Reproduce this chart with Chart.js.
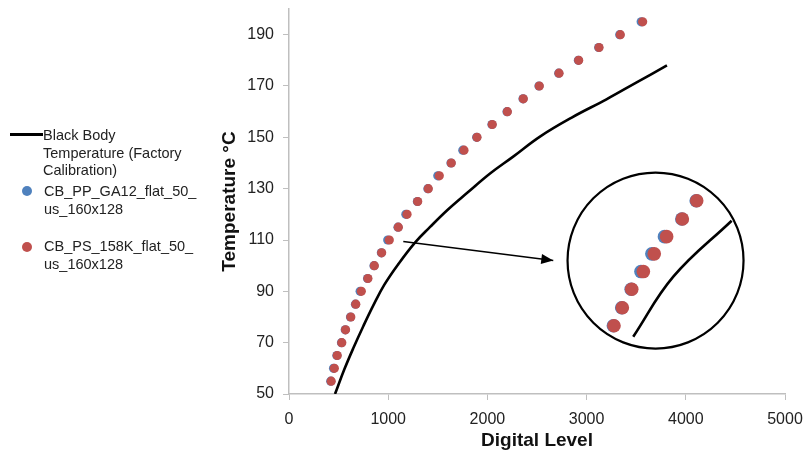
<!DOCTYPE html>
<html>
<head>
<meta charset="utf-8">
<script src="https://cdn.jsdelivr.net/npm/chart.js@4.4.1/dist/chart.umd.min.js"></script>
<style>
  body { margin: 0; background: #fff; }
  #wrap { position: relative; width: 806px; height: 456px; }
  #chart { position: absolute; left: 0; top: 0; }
  #legend { position: absolute; left: 0; top: 0; font-family: "Liberation Sans", Arial, sans-serif; font-size: 14.5px; line-height: 17.5px; color: #222; }
  .item { position: absolute; left: 44px; white-space: nowrap; }
  .mark { position: absolute; }
</style>
</head>
<body>
<div id="wrap">
  <canvas id="chart" width="806" height="456"></canvas>
  <div id="legend">
    <div class="mark" style="left:10px; top:133px; width:33px; height:3px; background:#000;"></div>
    <div class="item" style="top:127px; left:43px;">Black Body<br>Temperature (Factory<br>Calibration)</div>
    <div class="mark" style="left:22px; top:186px; width:10px; height:10px; border-radius:50%; background:#4f81bd;"></div>
    <div class="item" style="top:183px;">CB_PP_GA12_flat_50_<br>us_160x128</div>
    <div class="mark" style="left:22px; top:242px; width:10px; height:10px; border-radius:50%; background:#c0504d;"></div>
    <div class="item" style="top:238px;">CB_PS_158K_flat_50_<br>us_160x128</div>
  </div>
</div>
<script>
// temperatures of the measured points (°C)
var temps = [55, 60, 65, 70, 75, 80, 85, 90, 95, 100, 105, 110, 115, 120, 125, 130, 135, 140, 145, 150, 155, 160, 165, 170, 175, 180, 185, 190, 195];
// digital level, CB_PS_158K
var redLevels = [425, 457, 486, 532, 570, 623, 673, 729, 795, 860, 934, 1011, 1102, 1190, 1297, 1404, 1515, 1636, 1764, 1895, 2049, 2201, 2362, 2523, 2722, 2920, 3125, 3340, 3565];
// digital level, CB_PP_GA12
var blueLevels = [421, 449, 483, 529, 567, 620, 670, 717, 792, 857, 931, 995, 1099, 1178, 1294, 1400, 1500, 1633, 1752, 1892, 2046, 2198, 2359, 2520, 2719, 2917, 3122, 3334, 3550];

// black body factory calibration curve
var bbLevels = [464, 560, 650, 750, 850, 960, 1100, 1270, 1420, 1600, 1800, 2030, 2260, 2530, 2850, 3200, 3500, 3810];
var bbTemps = [50, 59.8, 68, 76.5, 84.5, 92.5, 100.5, 109, 115, 121.8, 128.5, 136, 142.5, 150.3, 157.7, 164.8, 171.3, 178];

// magnified inset (positions in axis units)
var insetRedX = [3276, 3360, 3455, 3572, 3682, 3807, 3965, 4110];
var insetRedY = [76.6, 83.6, 90.8, 97.7, 104.6, 111.3, 118.2, 125.3];
var insetBlueX = [3270, 3354, 3449, 3548, 3658, 3785, 3960, 4105];
var insetLineX = [3470, 3874, 4462];
var insetLineY = [72.3, 95.7, 117.5];
var circleCenter = [3695, 102];
var arrowX = [1152, 2664];
var arrowY = [109.4, 102.0];

var xTicks = [0, 1000, 2000, 3000, 4000, 5000];
var yTicks = [50, 70, 90, 110, 130, 150, 170, 190];

var RED = '#c0504d';
var BLUE = '#4f81bd';

function pts(xs, ys) {
    return xs.map(function (x, i) { return { x: x, y: ys[i] }; });
}

var arrowHead = {
    id: 'arrowHead',
    afterDatasetsDraw: function (chart) {
        var meta = chart.getDatasetMeta(chart.data.datasets.length - 1);
        var p = meta.data;
        var a = p[p.length - 2], b = p[p.length - 1];
        var ang = Math.atan2(b.y - a.y, b.x - a.x);
        var ctx = chart.ctx;
        ctx.save();
        ctx.translate(b.x, b.y);
        ctx.rotate(ang);
        ctx.beginPath();
        ctx.moveTo(0, 0);
        ctx.lineTo(-12, -5);
        ctx.lineTo(-12, 5);
        ctx.closePath();
        ctx.fillStyle = '#000';
        ctx.fill();
        ctx.restore();
    }
};

Chart.defaults.font.family = '"Liberation Sans", Arial, sans-serif';
Chart.defaults.color = '#222';

var ctx = document.getElementById('chart');
var chart = new Chart(ctx, {
    type: 'scatter',
    data: {
        datasets: [
            {
                data: pts(redLevels, temps),
                backgroundColor: RED,
                borderWidth: 0,
                pointRadius: 4.6
            },
            {
                data: pts(blueLevels, temps),
                backgroundColor: BLUE,
                borderWidth: 0,
                pointRadius: 4.6
            },
            {
                data: pts(bbLevels, bbTemps),
                showLine: true,
                borderColor: '#000',
                borderWidth: 2.6,
                pointRadius: 0,
                tension: 0.4
            },
            {
                data: pts(insetRedX, insetRedY),
                backgroundColor: RED,
                borderWidth: 0,
                pointRadius: 6.8
            },
            {
                data: pts(insetBlueX, insetRedY),
                backgroundColor: BLUE,
                borderWidth: 0,
                pointRadius: 6.8
            },
            {
                data: pts(insetLineX, insetLineY),
                showLine: true,
                borderColor: '#000',
                borderWidth: 2.6,
                pointRadius: 0,
                tension: 0.4
            },
            {
                data: [{ x: circleCenter[0], y: circleCenter[1] }],
                pointRadius: 88,
                backgroundColor: 'rgba(0,0,0,0)',
                borderColor: '#000',
                borderWidth: 2.2
            },
            {
                data: pts(arrowX, arrowY),
                showLine: true,
                borderColor: '#000',
                borderWidth: 1.6,
                pointRadius: 0
            }
        ]
    },
    options: {
        responsive: false,
        animation: false,
        layout: { autoPadding: false, padding: { left: 214, right: 21, top: 9, bottom: 0 } },
        plugins: {
            legend: { display: false },
            tooltip: { enabled: false }
        },
        scales: {
            x: {
                type: 'linear',
                min: 0,
                max: 5000,
                afterBuildTicks: function (s) { s.ticks = xTicks.map(function (v) { return { value: v }; }); },
                afterFit: function (s) {
                    s.height = 62;
                    s.paddingLeft = 0;
                    s.paddingRight = 0;
                },
                grid: { drawOnChartArea: false, tickLength: 6, color: '#bfbfbf' },
                border: { color: '#bfbfbf', width: 1.5 },
                ticks: { font: { size: 16 }, padding: 10, color: '#222', callback: function (v) { return String(v); } },
                title: { display: true, text: 'Digital Level', font: { size: 19, weight: 'bold' }, color: '#111' }
            },
            y: {
                type: 'linear',
                min: 50,
                max: 200,
                afterBuildTicks: function (s) { s.ticks = yTicks.map(function (v) { return { value: v }; }); },
                afterFit: function (s) {
                    s.width = 75;
                    s.paddingTop = 0;
                    s.paddingBottom = 0;
                },
                grid: { drawOnChartArea: false, tickLength: 6, color: '#bfbfbf' },
                border: { color: '#bfbfbf', width: 1.5 },
                ticks: { font: { size: 16 }, padding: 9, color: '#222', callback: function (v) { return String(v); } },
                title: { display: true, text: 'Temperature °C', font: { size: 19, weight: 'bold' }, color: '#111' }
            }
        }
    },
    plugins: [arrowHead]
});
</script>
</body>
</html>
